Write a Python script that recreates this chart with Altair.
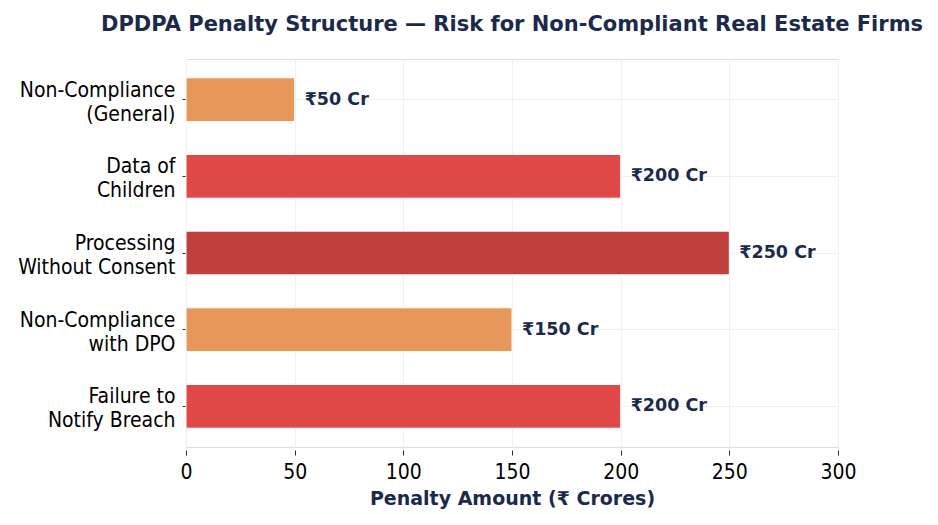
import altair as alt
import pandas as pd

categories = ["Non-Compliance\n(General)", "Data of\nChildren", "Processing\nWithout Consent",
              "Non-Compliance\nwith DPO", "Failure to\nNotify Breach"]
penalties = [50, 200, 250, 150, 200]
labels = ["₹50 Cr", "₹200 Cr", "₹250 Cr", "₹150 Cr", "₹200 Cr"]
colors = ["#E8975A", "#E04848", "#C03F3F", "#E8975A", "#E04848"]
x_ticks = [0, 50, 100, 150, 200, 250, 300]

df = pd.DataFrame({"cat": categories, "val": penalties, "lab": labels, "col": colors})

navy = "#1B2A4A"
font = "DejaVu Sans"
cfont = "DejaVu Sans Condensed"

y = alt.Y("cat:N", sort=categories, title=None,
          scale=alt.Scale(paddingInner=0.43, paddingOuter=0.245),
          axis=alt.Axis(labelExpr="split(datum.label, '\\n')", labelFont=cfont, labelFontSize=21,
                        labelColor="#000000", labelLineHeight=24, tickSize=4, tickColor="#333333",
                        domain=False, labelPadding=7, grid=True, gridColor="#F0F0F0",
                        labelBaseline="middle", labelOffset=-9))
x = alt.X("val:Q", title="Penalty Amount (₹ Crores)",
          scale=alt.Scale(domain=[0, 300], nice=False),
          axis=alt.Axis(values=x_ticks, labelFont=cfont, labelFontSize=21, labelColor="#000000",
                        tickSize=5, tickColor="#333333", domain=False, grid=True,
                        gridColor="#F0F0F0", titleFont=font, titleFontSize=19,
                        titleFontWeight="bold", titleColor=navy, titlePadding=7, labelPadding=6,
                        labelFlush=False, offset=3))

bars = alt.Chart(df).mark_bar(stroke="#FFFFFF", strokeWidth=1).encode(
    x=x, y=y, color=alt.Color("col:N", scale=None)
)
text = alt.Chart(df).mark_text(align="left", baseline="middle", dx=10, font=font,
                               fontSize=17.5, fontWeight="bold", color=navy).encode(
    x="val:Q", y=alt.Y("cat:N", sort=categories), text="lab:N"
)

chart = (bars + text).properties(
    width=652, height=388,
    title=alt.TitleParams("DPDPA Penalty Structure — Risk for Non-Compliant Real Estate Firms",
                          font=font, fontSize=21, fontWeight="bold", color=navy,
                          anchor="middle", offset=24),
    autosize=alt.AutoSizeParams(type="none"),
    padding={"left": 178, "top": 51, "right": 92, "bottom": 70},
).configure_view(stroke="#E3E3E3", strokeWidth=1.5).configure(background="#FFFFFF")

chart.save("out.html", embed_options={"renderer": "svg", "actions": False})
